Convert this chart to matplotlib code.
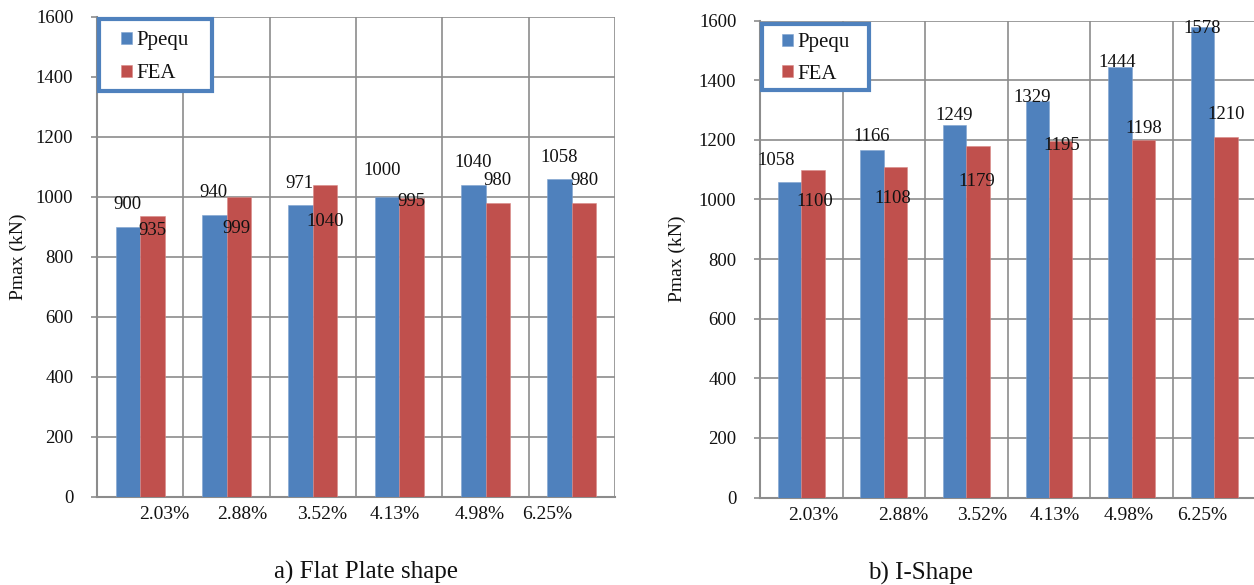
import matplotlib
matplotlib.use("Agg")
import matplotlib.pyplot as plt
from matplotlib.patches import Rectangle
import numpy as np

plt.rcParams["font.family"] = ["Liberation Serif", "DejaVu Serif"]

# Reinforcement ratio categories
categories = ["2.03%", "2.88%", "3.52%", "4.13%", "4.98%", "6.25%"]

# a) Flat plate shape, Pmax (kN)
flat_ppequ = [900, 940, 971, 1000, 1040, 1058]
flat_fea = [935, 999, 1040, 995, 980, 980]

# b) I-shape, Pmax (kN)
ishape_ppequ = [1058, 1166, 1249, 1329, 1444, 1578]
ishape_fea = [1100, 1108, 1179, 1195, 1198, 1210]

series_names = ["Ppequ", "FEA"]
captions = ["a) Flat Plate shape", "b) I-Shape"]

BLUE = "#4F81BD"
RED = "#C0504D"
GRID = "#8C8C8C"
TXT = "#111111"

# hand-placed label nudges (pixels: dx right, dy up from bar top)
flat_ppequ_off = [(0, 24), (-1, 24), (-1.5, 23.5), (-5, 28), (0, 24), (0, 24)]
flat_fea_off = [(0, -13), (-2, -30), (0, -35), (0, -2), (0, 24), (0, 24)]
ishape_ppequ_off = [(-13.5, 23), (0, 15), (-1, 11), (-5, 5.5), (-3, 6), (0, 0)]
ishape_fea_off = [(1.5, -30), (-3, -29), (-1.5, -34), (0.7, -2), (0, 13.5), (0, 24)]

# category-label shifts along x (in category widths)
flat_tick_shift = [0.276, 0.185, 0.107, -0.049, -0.064, -0.28]
ishape_tick_shift = [0.146, 0.23, 0.19, 0.07, -0.036, -0.14]

W, H = 1254, 585
fig = plt.figure(figsize=(W / 100, H / 100), dpi=100)

PX = 0.72  # points per pixel at 100 dpi


def axes_rect(left, right, top, bottom):
    return [left / W, 1 - bottom / H, (right - left) / W, (bottom - top) / H]


def draw(ax, ppequ, fea, p_off, f_off, shift, frame_px, entry_px, spacing,
         ylabel_x):
    x = np.arange(len(categories))
    bw = 0.284
    b1 = ax.bar(x - bw / 2, ppequ, bw, color=BLUE, label=series_names[0],
                edgecolor="#7FA3D0", linewidth=0.4, zorder=3)
    b2 = ax.bar(x + bw / 2, fea, bw, color=RED, label=series_names[1],
                edgecolor="#D98A88", linewidth=0.4, zorder=3)

    ax.set_xlim(-0.5, len(categories) - 0.5)
    ax.set_ylim(0, 1600)
    ax.set_yticks(np.arange(0, 1601, 200))

    # vertical grid at category boundaries
    ax.set_xticks(np.arange(-0.5, len(categories), 1.0), minor=True)
    ax.grid(True, which="minor", axis="x", color=GRID, linewidth=1.2, zorder=0)
    ax.grid(True, which="major", axis="y", color=GRID, linewidth=1.2, zorder=0)
    ax.tick_params(axis="x", which="minor", length=0)

    ax.set_xticks(x + np.array(shift))
    ax.set_xticklabels(categories)
    ax.tick_params(axis="x", which="major", length=0, pad=7,
                   labelsize=14, labelcolor=TXT)
    ax.tick_params(axis="y", length=4, width=1.2, color=GRID, pad=13,
                   labelsize=13.5, labelcolor=TXT)

    for s in ["top", "right"]:
        ax.spines[s].set_visible(False)
    for s in ["left", "bottom"]:
        ax.spines[s].set_color(GRID)
        ax.spines[s].set_linewidth(1.5)
    ax.set_axisbelow(True)

    ax.set_ylabel("Pmax (kN)", fontsize=14, color=TXT)
    ax.yaxis.set_label_coords(ylabel_x, 0.5)

    for bars, vals, offs in ((b1, ppequ, p_off), (b2, fea, f_off)):
        for r, v, (dx, dy) in zip(bars, vals, offs):
            cx = r.get_x() + r.get_width() / 2
            ax.annotate(str(v), (cx, v), xytext=(dx * PX, (dy - 6.2) * PX),
                        textcoords="offset points", ha="center", va="baseline",
                        fontsize=13.5, color=TXT, zorder=5)

    # legend frame: white box with a thick blue border
    l, t, r, b = frame_px
    box = Rectangle((l / W, 1 - b / H), (r - l) / W, (b - t) / H,
                    transform=fig.transFigure, facecolor="white",
                    edgecolor=BLUE, linewidth=3.0, clip_on=False, zorder=6)
    ax.add_patch(box)

    ex, ey = entry_px
    leg = ax.legend(loc="upper left", bbox_to_anchor=(ex / W, 1 - ey / H),
                    bbox_transform=fig.transFigure,
                    frameon=False, fontsize=15,
                    handlelength=0.53, handleheight=0.53, handletextpad=0.22,
                    labelspacing=spacing, borderpad=0, borderaxespad=0)
    leg.set_zorder(7)
    for t_ in leg.get_texts():
        t_.set_color(TXT)


ax1 = fig.add_axes(axes_rect(97, 615, 16.7, 496.7))
draw(ax1, flat_ppequ, flat_fea, flat_ppequ_off, flat_fea_off,
     flat_tick_shift, (99, 19, 212, 91), (121, 31.5), 0.67, -70 / 518)

ax2 = fig.add_axes(axes_rect(760, 1255.5, 20.7, 497.5))
draw(ax2, ishape_ppequ, ishape_fea, ishape_ppequ_off, ishape_fea_off,
     ishape_tick_shift, (762, 24, 869, 90), (782, 33.5), 0.58, -74 / 495.5)

fig.text(366 / W, 1 - 572 / H, captions[0], ha="center", va="center",
         fontsize=18, color=TXT)
fig.text(920.5 / W, 1 - 573 / H, captions[1], ha="center", va="center",
         fontsize=18, color=TXT)

fig.savefig("out.png", dpi=100, facecolor="white")
